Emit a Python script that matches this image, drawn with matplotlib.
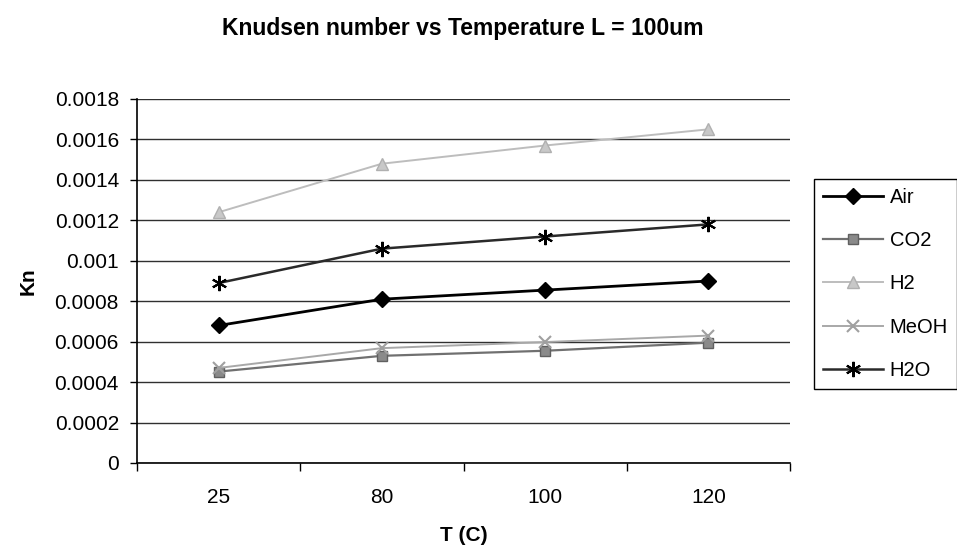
import matplotlib.pyplot as plt
import numpy as np

plt.rcParams["font.family"] = ["Liberation Sans", "DejaVu Sans"]

temps = ["25", "80", "100", "120"]
air = [0.00068, 0.00081, 0.000855, 0.0009]
co2 = [0.000452, 0.00053, 0.000555, 0.000595]
h2 = [0.00124, 0.00148, 0.00157, 0.00165]
meoh = [0.00047, 0.000568, 0.000598, 0.00063]
h2o = [0.00089, 0.00106, 0.00112, 0.00118]

fig = plt.figure(figsize=(9.57, 5.6), dpi=100)
ax = fig.add_axes([137 / 957, 1 - 463 / 560, (790 - 137) / 957, (463 - 99) / 560])

x = np.arange(len(temps))
series = [
    ("Air", air, dict(color="black", lw=2.0, marker="D", ms=8, mfc="black", mec="black")),
    ("CO2", co2, dict(color="#707070", lw=1.6, marker="s", ms=7, mfc="#8a8a8a", mec="#606060")),
    ("H2", h2, dict(color="#bdbdbd", lw=1.4, marker="^", ms=8, mfc="#c8c8c8", mec="#b0b0b0")),
    ("MeOH", meoh, dict(color="#a8a8a8", lw=1.4, marker="x", ms=9, mew=1.5, mec="#a0a0a0")),
    ("H2O", h2o, dict(color="#2a2a2a", lw=1.8, marker=(6, 2, 0), ms=11, mew=1.5, mec="black")),
]
for name, vals, style in series:
    ax.plot(x, vals, label=name, zorder=3, **style)

ax.set_xlim(-0.5, 3.5)
ax.set_ylim(0, 0.0018)
ax.set_yticks(np.arange(0, 0.00181, 0.0002))
ax.set_yticklabels(["0", "0.0002", "0.0004", "0.0006", "0.0008", "0.001",
                    "0.0012", "0.0014", "0.0016", "0.0018"])
ax.set_xticks(x)
ax.set_xticklabels(temps)
ax.set_xticks(np.arange(-0.5, 3.6, 1), minor=True)
ax.tick_params(axis="x", which="major", length=0, pad=18, labelsize=15)
ax.tick_params(axis="x", which="minor", length=6, width=1, direction="out")
ax.tick_params(axis="y", length=5, width=1, direction="out", pad=8, labelsize=15)

ax.grid(axis="y", color="#303030", lw=1.0)
ax.set_axisbelow(True)
for side in ("top", "right"):
    ax.spines[side].set_visible(False)
for side in ("left", "bottom"):
    ax.spines[side].set_color("black")
    ax.spines[side].set_linewidth(1.2)

ax.set_ylabel("Kn", fontsize=15, fontweight="bold", labelpad=12)
ax.set_xlabel("T (C)", fontsize=15, fontweight="bold", labelpad=14)
fig.text(463 / 957, 1 - 29 / 560, "Knudsen number vs Temperature L = 100um",
         fontsize=16.5, fontweight="bold", ha="center", va="center")

leg = fig.legend(loc="upper left", bbox_to_anchor=(814 / 957, 1 - 179 / 560),
                 fontsize=14.5, handlelength=3.0, labelspacing=1.2,
                 handletextpad=0.3, borderpad=0.45, borderaxespad=0,
                 fancybox=False, framealpha=1)
leg.get_frame().set_edgecolor("black")
leg.get_frame().set_linewidth(1.0)

fig.savefig("out.png", dpi=100)
